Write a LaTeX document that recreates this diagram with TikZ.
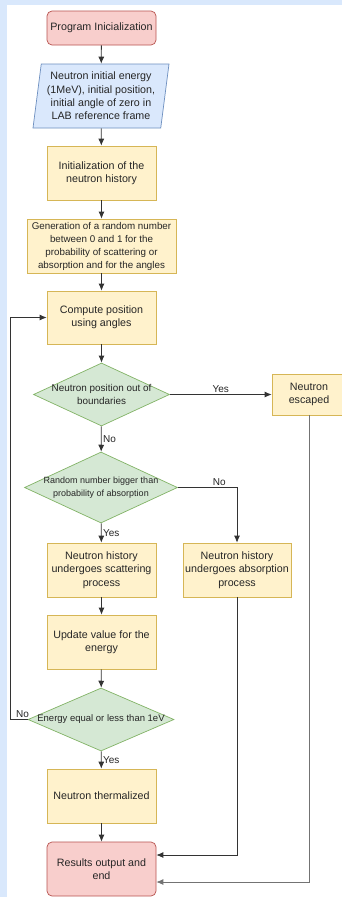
\documentclass[tikz,border=0pt]{standalone}
\usepackage{fontspec}
\setmainfont{Liberation Sans}
\usetikzlibrary{shapes.geometric,scopes,arrows.meta}

\definecolor{bgblue}{RGB}{217,232,252}
\definecolor{startfill}{HTML}{F8CECC}
\definecolor{startline}{HTML}{B85450}
\definecolor{iofill}{HTML}{DAE8FC}
\definecolor{ioline}{HTML}{6C8EBF}
\definecolor{procfill}{HTML}{FFF2CC}
\definecolor{procline}{HTML}{D6B656}
\definecolor{decfill}{HTML}{D5E8D4}
\definecolor{decline}{HTML}{82B366}

\begin{document}
\begin{tikzpicture}[
    x=1pt,y=-1pt,
    txt/.style={font=\fontsize{10.7}{13.3}\selectfont,align=center,text=black!85},
    terminal/.style={txt,rectangle,rounded corners=5pt,draw=startline,fill=startfill,minimum width=109,minimum height=34,line width=0.7pt},
    io/.style={txt,trapezium,trapezium left angle=77,trapezium right angle=103,trapezium stretches body,draw=ioline,fill=iofill,minimum width=136,minimum height=64,inner sep=-6pt,line width=0.7pt},
    proc/.style={txt,rectangle,draw=procline,fill=procfill,minimum width=109,minimum height=54,inner sep=1pt,line width=0.7pt},
    decision/.style={txt,diamond,draw=decline,fill=decfill,inner sep=-30pt,line width=0.7pt},
    flow/.style={>={Latex[length=7pt,width=6pt]},draw=black!80,line width=0.8pt},
    lbl/.style={font=\fontsize{10}{12}\selectfont,text=black!85,inner sep=1.5pt},
]
    \fill[bgblue] (0,0) rectangle (342,897);
    \fill[white] (7,5) rectangle (342,897);
    \useasboundingbox (0,0) rectangle (342,897);

    \node[terminal] (start) at (101.5,28) {Program Inicialization};
    \node[io] (init) at (101,96) {Neutron initial energy\\(1MeV), initial position,\\initial angle of zero in\\LAB reference frame};
    \node[proc] (hist) at (101.5,173) {Initialization of the\\neutron history};
    \node[proc,minimum width=149,font=\fontsize{9.8}{13}\selectfont] (rand) at (101.5,246) {Generation of a random number\\between 0 and 1 for the\\probability of scattering or\\absorption and for the angles};
    \node[proc,minimum height=53] (pos) at (101.5,317.5) {Compute position\\using angles};
    \node[decision,minimum width=136,minimum height=63,font=\fontsize{9.9}{13.5}\selectfont] (bound) at (101.5,394.5) {Neutron position out of\\boundaries};
    \node[proc,minimum width=74,minimum height=41] (esc) at (309,394.5) {Neutron\\escaped};
    \node[decision,minimum width=153,minimum height=71,font=\fontsize{9}{13.5}\selectfont] (prob) at (101,487.5) {Random number bigger than\\probability of absorption};
    \node[proc] (scat) at (101.5,570) {Neutron history\\undergoes scattering\\process};
    \node[proc,minimum width=108] (abso) at (237,570) {Neutron history\\undergoes absorption\\process};
    \node[proc] (upd) at (101.5,642) {Update value for the\\energy};
    \node[decision,minimum width=146,minimum height=63,font=\fontsize{9.5}{12}\selectfont] (ener) at (101,719.5) {Energy equal or less than 1eV};
    \node[proc] (therm) at (101.5,796) {Neutron thermalized};
    \node[terminal,minimum height=54] (res) at (101.5,869) {Results output and\\end};

    {[flow,->]
        \draw (start) -- (init);
        \draw (init) -- (hist);
        \draw (hist) -- (rand);
        \draw (rand) -- (pos);
        \draw (pos) -- (bound);
        \draw (bound) -- node[lbl,above] {Yes} (esc);
        \draw (bound) -- node[lbl,right] {No} (prob);
        \draw (prob) -| node[lbl,above,pos=0.35] {No} (abso);
        \draw (prob) -- node[lbl,right] {Yes} (scat);
        \draw (scat) -- (upd);
        \draw (upd) -- (ener);
        \draw (ener.west) -- node[lbl,above,pos=0.3] {No} ++(-17,0) |- (pos.west);
        \draw (ener) -- node[lbl,right] {Yes} (therm);
        \draw (therm) -- (res);
        \draw (abso) |- ([yshift=14pt]res.east);
        \draw[draw=black!55] (esc) |- ([yshift=-13pt]res.east);
    }
\end{tikzpicture}
\end{document}
